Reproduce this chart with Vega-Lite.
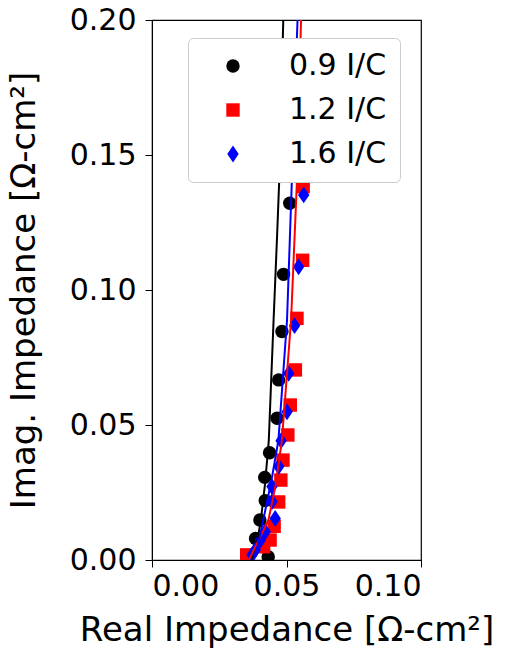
{
  "$schema": "https://vega.github.io/schema/vega-lite/v6.json",
  "autosize": {"type": "none"},
  "padding": {"left": 152, "top": 20, "right": 89, "bottom": 88},
  "width": 269,
  "height": 540,
  "background": "white",
  "config": {
    "font": "DejaVu Sans",
    "view": {"stroke": "black", "strokeWidth": 1.2},
    "axis": {
      "grid": false,
      "domainColor": "black",
      "tickColor": "black",
      "labelColor": "black",
      "titleColor": "black",
      "labelFont": "DejaVu Sans",
      "titleFont": "DejaVu Sans",
      "labelFontSize": 30,
      "titleFontSize": 34,
      "titleFontWeight": "normal",
      "tickSize": 7,
      "labelPadding": 4
    },
    "legend": {
      "labelFont": "DejaVu Sans",
      "labelFontSize": 30,
      "labelColor": "black"
    }
  },
  "datasets": {
    "pts": [
      {"series": "0.9 I/C", "x": 0.0512, "y": 0.1321},
      {"series": "0.9 I/C", "x": 0.0489, "y": 0.1058},
      {"series": "0.9 I/C", "x": 0.0483, "y": 0.0846},
      {"series": "0.9 I/C", "x": 0.0471, "y": 0.0667},
      {"series": "0.9 I/C", "x": 0.0465, "y": 0.0525},
      {"series": "0.9 I/C", "x": 0.0437, "y": 0.0397},
      {"series": "0.9 I/C", "x": 0.0419, "y": 0.0306},
      {"series": "0.9 I/C", "x": 0.0421, "y": 0.022},
      {"series": "0.9 I/C", "x": 0.0401, "y": 0.0148},
      {"series": "0.9 I/C", "x": 0.0385, "y": 0.008},
      {"series": "0.9 I/C", "x": 0.0432, "y": 0.0012},
      {"series": "1.2 I/C", "x": 0.0562, "y": 0.1383},
      {"series": "1.2 I/C", "x": 0.0560, "y": 0.111},
      {"series": "1.2 I/C", "x": 0.0539, "y": 0.0895},
      {"series": "1.2 I/C", "x": 0.0533, "y": 0.0704},
      {"series": "1.2 I/C", "x": 0.0514, "y": 0.0574},
      {"series": "1.2 I/C", "x": 0.0505, "y": 0.0463},
      {"series": "1.2 I/C", "x": 0.0487, "y": 0.037},
      {"series": "1.2 I/C", "x": 0.0479, "y": 0.0296},
      {"series": "1.2 I/C", "x": 0.0471, "y": 0.0215},
      {"series": "1.2 I/C", "x": 0.0454, "y": 0.0125},
      {"series": "1.2 I/C", "x": 0.0439, "y": 0.0074},
      {"series": "1.2 I/C", "x": 0.0415, "y": 0.0049},
      {"series": "1.2 I/C", "x": 0.0352, "y": 0.0019},
      {"series": "1.6 I/C", "x": 0.0564, "y": 0.1352},
      {"series": "1.6 I/C", "x": 0.0545, "y": 0.1086},
      {"series": "1.6 I/C", "x": 0.053, "y": 0.0868},
      {"series": "1.6 I/C", "x": 0.0508, "y": 0.0691},
      {"series": "1.6 I/C", "x": 0.0502, "y": 0.0549},
      {"series": "1.6 I/C", "x": 0.048, "y": 0.0442},
      {"series": "1.6 I/C", "x": 0.0471, "y": 0.0346},
      {"series": "1.6 I/C", "x": 0.0446, "y": 0.0272},
      {"series": "1.6 I/C", "x": 0.0446, "y": 0.0216},
      {"series": "1.6 I/C", "x": 0.0458, "y": 0.0154},
      {"series": "1.6 I/C", "x": 0.0421, "y": 0.0105},
      {"series": "1.6 I/C", "x": 0.0403, "y": 0.0074},
      {"series": "1.6 I/C", "x": 0.0384, "y": 0.0037},
      {"series": "1.6 I/C", "x": 0.0372, "y": 0.0019}
    ],
    "fits": [
      {"series": "0.9 I/C", "o": 1, "x": 0.0372, "y": 0.0},
      {"series": "0.9 I/C", "o": 2, "x": 0.039, "y": 0.006},
      {"series": "0.9 I/C", "o": 3, "x": 0.0405, "y": 0.015},
      {"series": "0.9 I/C", "o": 4, "x": 0.042, "y": 0.028},
      {"series": "0.9 I/C", "o": 5, "x": 0.0434, "y": 0.044},
      {"series": "0.9 I/C", "o": 6, "x": 0.0452, "y": 0.0889},
      {"series": "0.9 I/C", "o": 7, "x": 0.0465, "y": 0.12},
      {"series": "0.9 I/C", "o": 8, "x": 0.0473, "y": 0.1407},
      {"series": "0.9 I/C", "o": 9, "x": 0.0488, "y": 0.2},
      {"series": "0.9 I/C", "o": 10, "x": 0.049, "y": 0.21},
      {"series": "1.2 I/C", "o": 1, "x": 0.036, "y": 0.0},
      {"series": "1.2 I/C", "o": 2, "x": 0.0385, "y": 0.005},
      {"series": "1.2 I/C", "o": 3, "x": 0.0433, "y": 0.0148},
      {"series": "1.2 I/C", "o": 4, "x": 0.046, "y": 0.028},
      {"series": "1.2 I/C", "o": 5, "x": 0.0483, "y": 0.0444},
      {"series": "1.2 I/C", "o": 6, "x": 0.0517, "y": 0.0889},
      {"series": "1.2 I/C", "o": 7, "x": 0.0539, "y": 0.1407},
      {"series": "1.2 I/C", "o": 8, "x": 0.0554, "y": 0.2},
      {"series": "1.2 I/C", "o": 9, "x": 0.0557, "y": 0.21},
      {"series": "1.6 I/C", "o": 1, "x": 0.0377, "y": 0.0},
      {"series": "1.6 I/C", "o": 2, "x": 0.0395, "y": 0.006},
      {"series": "1.6 I/C", "o": 3, "x": 0.0414, "y": 0.015},
      {"series": "1.6 I/C", "o": 4, "x": 0.0445, "y": 0.03},
      {"series": "1.6 I/C", "o": 5, "x": 0.047, "y": 0.0444},
      {"series": "1.6 I/C", "o": 6, "x": 0.0502, "y": 0.0889},
      {"series": "1.6 I/C", "o": 7, "x": 0.052, "y": 0.1407},
      {"series": "1.6 I/C", "o": 8, "x": 0.0541, "y": 0.2},
      {"series": "1.6 I/C", "o": 9, "x": 0.0544, "y": 0.21}
    ]
  },
  "layer": [
    {
      "data": {"name": "pts"},
      "mark": {"type": "point", "filled": true, "opacity": 1, "size": 180, "clip": true},
      "encoding": {
        "x": {
          "field": "x", "type": "quantitative",
          "scale": {"domain": [0, 0.1], "nice": false, "zero": false},
          "axis": {"values": [0, 0.05, 0.1], "format": ".2f", "title": "Real Impedance [Ω-cm²]", "titlePadding": 12}
        },
        "y": {
          "field": "y", "type": "quantitative",
          "scale": {"domain": [0, 0.2], "nice": false, "zero": false},
          "axis": {"values": [0, 0.05, 0.1, 0.15, 0.2], "format": ".2f", "title": "Imag. Impedance [Ω-cm²]", "titlePadding": 28, "labelPadding": 9}
        },
        "color": {
          "field": "series", "type": "nominal",
          "scale": {"domain": ["0.9 I/C", "1.2 I/C", "1.6 I/C"], "range": ["black", "#ff0000", "#0000ff"]},
          "legend": {
            "title": null,
            "orient": "none",
            "legendX": 36,
            "legendY": 18,
            "fillColor": "white",
            "strokeColor": "#cccccc",
            "cornerRadius": 5,
            "padding": 13,
            "symbolOffset": 17,
            "labelOffset": 41,
            "rowPadding": 14,
            "symbolSize": 180,
            "symbolStrokeWidth": 0
          }
        },
        "shape": {
          "field": "series", "type": "nominal",
          "scale": {"domain": ["0.9 I/C", "1.2 I/C", "1.6 I/C"], "range": ["circle", "square", "M0,-1.25L0.85,0L0,1.25L-0.85,0Z"]}
        }
      }
    },
    {
      "data": {"name": "fits"},
      "mark": {"type": "line", "strokeWidth": 2, "clip": true},
      "encoding": {
        "x": {"field": "x", "type": "quantitative"},
        "y": {"field": "y", "type": "quantitative"},
        "order": {"field": "o", "type": "quantitative"},
        "color": {"field": "series", "type": "nominal", "legend": null}
      }
    }
  ]
}
